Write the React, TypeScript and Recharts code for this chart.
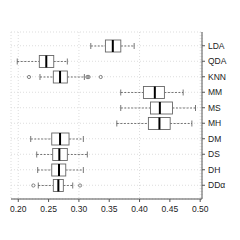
import { ComposedChart, Bar, XAxis, YAxis, CartesianGrid } from 'recharts';

const models = ['LDA', 'QDA', 'KNN', 'MM', 'MS', 'MH', 'DM', 'DS', 'DH', 'DDα'];
const whiskerLow = [0.3196, 0.1983, 0.2358, 0.369, 0.369, 0.3625, 0.2205, 0.2304, 0.232, 0.233];
const q1 = [0.3437, 0.2347, 0.2578, 0.4064, 0.418, 0.4146, 0.2552, 0.2568, 0.2552, 0.2578];
const medians = [0.3559, 0.2462, 0.2689, 0.4252, 0.4335, 0.4328, 0.2689, 0.2677, 0.2672, 0.2661];
const q3 = [0.3691, 0.2585, 0.2809, 0.441, 0.4543, 0.4505, 0.2837, 0.2809, 0.2783, 0.2743];
const whiskerHigh = [0.3911, 0.2809, 0.309, 0.4719, 0.4923, 0.4863, 0.3073, 0.3139, 0.3073, 0.2898];
const outliers: number[][] = [[], [], [0.2177, 0.3139, 0.316, 0.336], [], [], [], [], [], [], [0.2248, 0.3019]];
const xTicks = [0.2, 0.25, 0.3, 0.35, 0.4, 0.45, 0.5];

const data = models.map((name, i) => ({
  name,
  range: [whiskerLow[i], whiskerHigh[i]],
  q1: q1[i],
  median: medians[i],
  q3: q3[i],
  outliers: outliers[i],
}));

const FONT = '"Liberation Sans", Arial, sans-serif';

// the bar spans whiskerLow..whiskerHigh; the other stats are placed on the same linear scale
const BoxShape = (props: any) => {
  const { x, y, width, height, payload } = props;
  const [lo, hi] = payload.range;
  const px = (v: number) => x + ((v - lo) / (hi - lo)) * width;
  const cy = y + height / 2;
  const cap = height / 4;
  const b1 = px(payload.q1);
  const b3 = px(payload.q3);
  const m = px(payload.median);
  return (
    <g>
      <line x1={x} x2={b1} y1={cy} y2={cy} stroke="#555" strokeWidth={0.8} strokeDasharray="2 1.5" />
      <line x1={b3} x2={x + width} y1={cy} y2={cy} stroke="#555" strokeWidth={0.8} strokeDasharray="2 1.5" />
      <line x1={x} x2={x} y1={cy - cap} y2={cy + cap} stroke="#555" strokeWidth={0.8} />
      <line x1={x + width} x2={x + width} y1={cy - cap} y2={cy + cap} stroke="#555" strokeWidth={0.8} />
      <rect x={b1} y={y} width={b3 - b1} height={height} fill="#fff" stroke="#666" strokeWidth={0.9} />
      <line x1={m} x2={m} y1={y} y2={y + height} stroke="#000" strokeWidth={2} />
      {payload.outliers.map((o: number, k: number) => (
        <circle key={k} cx={px(o)} cy={cy} r={1.6} fill="none" stroke="#555" strokeWidth={0.7} />
      ))}
    </g>
  );
};

export default function App() {
  return (
    <div style={{ position: 'fixed', left: 0, top: 0, background: '#fff' }}>
      <ComposedChart
        width={240}
        height={240}
        data={data}
        layout="vertical"
        margin={{ top: 32, right: 0, bottom: 0, left: 11 }}
      >
        <CartesianGrid stroke="#ddd" strokeDasharray="1 2" />
        <XAxis
          type="number"
          domain={[0.188, 0.503]}
          ticks={xTicks}
          tickFormatter={(v: number) => v.toFixed(2)}
          allowDataOverflow
          height={41}
          tickSize={3}
          tickMargin={4}
          stroke="#555"
          tick={{ fill: '#222', fontSize: 8.5, fontFamily: FONT }}
        />
        <XAxis
          xAxisId="top"
          orientation="top"
          type="number"
          height={0}
          tick={false}
          tickLine={false}
          stroke="#555"
        />
        <YAxis
          type="category"
          dataKey="name"
          orientation="right"
          width={38}
          padding={{ top: 6, bottom: 6 }}
          tickSize={3}
          tickMargin={3}
          stroke="#555"
          interval={0}
          tick={{ fill: '#222', fontSize: 8.5, fontFamily: FONT, textAnchor: 'start' }}
        />
        <YAxis
          yAxisId="left"
          orientation="left"
          type="category"
          dataKey="name"
          width={0}
          tick={false}
          tickLine={false}
          stroke="#555"
        />
        <Bar dataKey="range" barSize={12} shape={BoxShape} isAnimationActive={false} />
      </ComposedChart>
    </div>
  );
}
